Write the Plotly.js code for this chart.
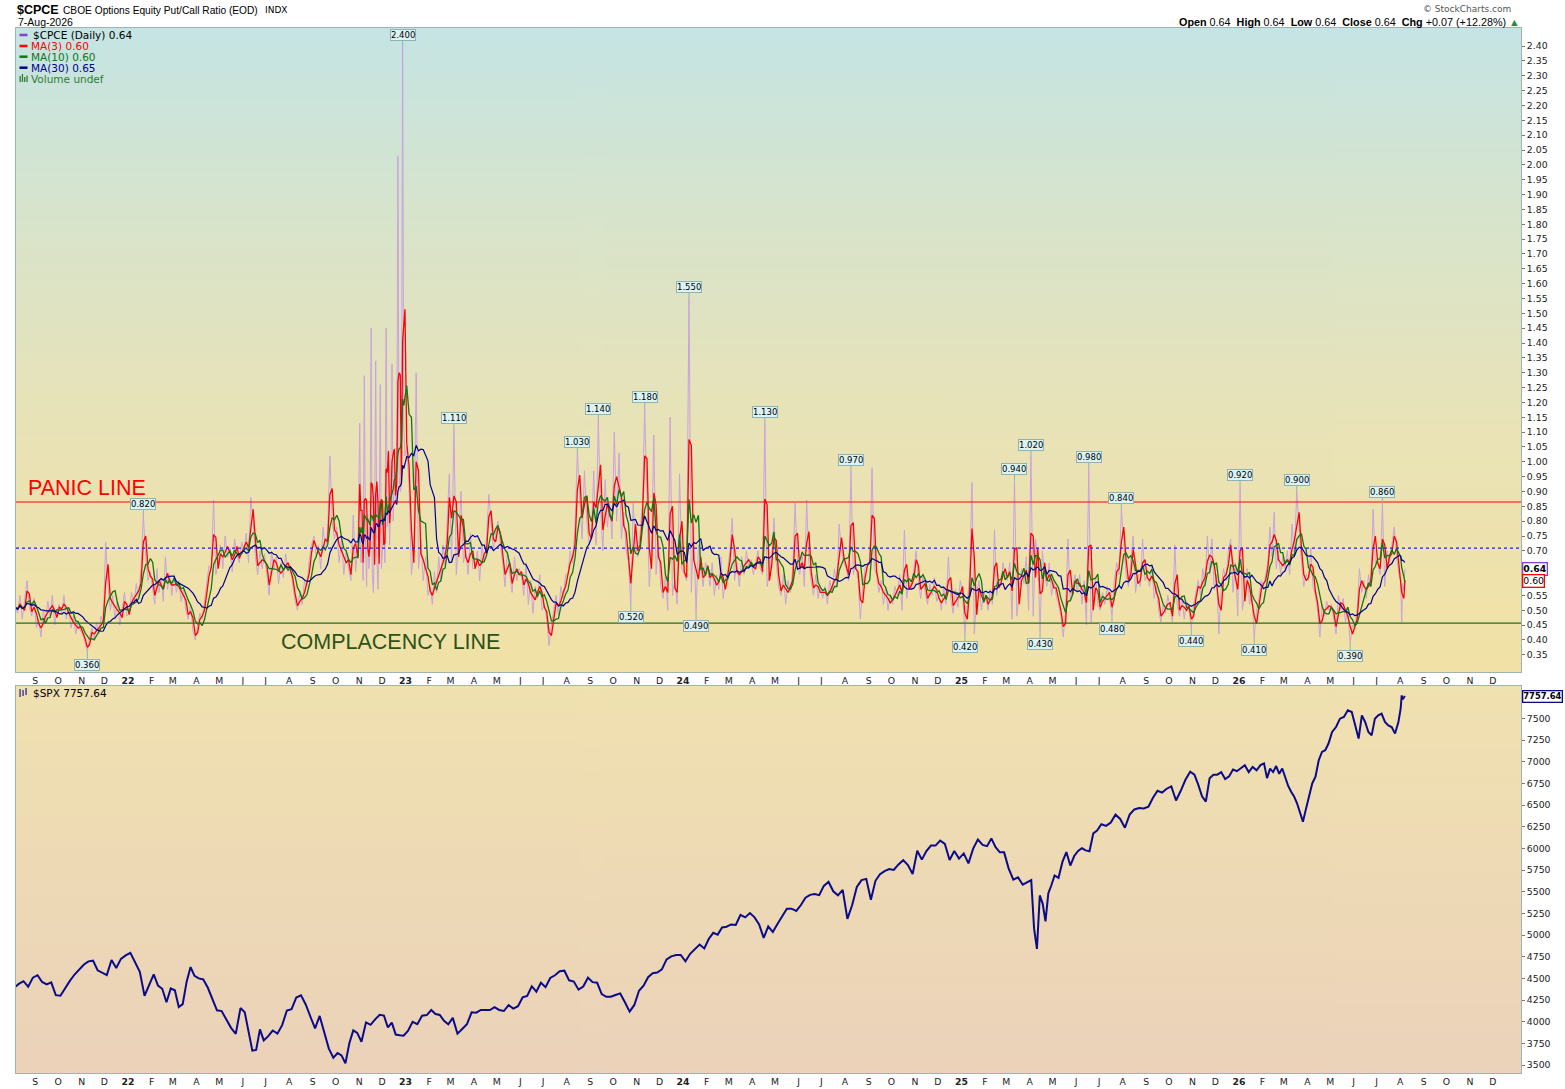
<!DOCTYPE html>
<html><head><meta charset="utf-8">
<script src="https://cdn.plot.ly/plotly-3.0.1.min.js"></script>
<style>html,body{margin:0;padding:0;background:#fff;}#chart{width:1565px;height:1089px;}</style>
</head><body><div id="chart"></div>
<script>
// ---------------- DATA ----------------
const FIRST_MONTH = '2021-08';
const LAST_DATE = '2026-08-07';

// $CPCE daily put/call ratio, sampled values per month (Aug 2021 .. Aug 2026)
const CPCE = [
 [0.50,0.52,0.49,0.55,0.47,0.53,0.60,0.51,0.48,0.54],
 [0.44,0.47,0.41,0.50,0.46,0.53,0.48,0.55,0.45,0.50],
 [0.52,0.49,0.55,0.47,0.51,0.44,0.48,0.42,0.46,0.43],
 [0.42,0.39,0.36,0.41,0.44,0.40,0.46,0.42,0.48,0.45],
 [0.73,0.58,0.50,0.55,0.47,0.53,0.45,0.50,0.56,0.48],
 [0.49,0.56,0.52,0.59,0.54,0.64,0.82,0.68,0.60,0.63],
 [0.58,0.52,0.64,0.56,0.61,0.53,0.68,0.57,0.62,0.55],
 [0.62,0.56,0.60,0.53,0.57,0.50,0.47,0.52,0.43,0.40],
 [0.45,0.49,0.47,0.53,0.58,0.65,0.64,0.87,0.62,0.66],
 [0.72,0.64,0.75,0.68,0.71,0.63,0.74,0.69,0.66,0.73],
 [0.70,0.76,0.66,0.88,0.80,0.68,0.62,0.70,0.64,0.69],
 [0.62,0.55,0.70,0.64,0.68,0.59,0.66,0.61,0.69,0.63],
 [0.64,0.58,0.53,0.50,0.56,0.52,0.60,0.58,0.67,0.72],
 [0.75,0.68,0.72,0.64,0.78,0.70,0.76,1.02,0.80,0.74],
 [0.78,0.66,0.74,0.62,0.70,0.64,0.60,0.82,0.63,0.72],
 [1.13,0.66,0.72,0.60,1.29,0.74,0.58,0.82,0.64,0.70,1.45,0.62,0.56,0.78,1.34,0.68,0.57,0.72,1.26,0.64],
 [0.70,0.82,0.66,1.45,0.78,0.88,0.72,0.95,1.33,0.80,1.00,0.86,0.92,2.03,0.95,0.90,0.92,2.40,1.12,1.02],
 [1.05,0.92,0.62,0.70,1.30,0.64,0.74,0.60,0.68,0.55],
 [0.58,0.52,0.63,0.56,0.68,0.60,0.72,0.65,0.80,0.96],
 [0.66,1.11,0.62,0.74,0.90,0.66,0.70,0.62,0.76,0.64],
 [0.64,0.70,0.60,0.72,0.66,0.74,0.89,0.78,0.70,0.76],
 [0.80,0.72,0.66,0.58,0.70,0.62,0.56,0.68,0.60,0.64],
 [0.62,0.55,0.66,0.52,0.60,0.49,0.58,0.54,0.62,0.50],
 [0.52,0.47,0.38,0.45,0.50,0.55,0.48,0.58,0.54,0.62],
 [0.62,0.70,0.66,0.78,1.03,0.88,0.74,0.97,0.80,0.72],
 [0.76,0.97,0.72,1.14,0.84,0.70,0.94,0.78,0.86,0.74],
 [1.10,0.80,1.03,0.74,0.83,0.70,0.66,0.52,0.86,0.72],
 [0.68,0.76,0.86,1.18,0.84,0.58,0.70,1.09,0.62,0.74],
 [0.58,0.54,0.62,0.50,1.15,0.55,0.60,0.52,0.96,0.64],
 [0.62,0.60,1.55,0.56,0.78,0.49,0.72,0.64,0.58,0.66],
 [0.64,0.58,0.66,0.55,0.62,0.57,0.68,0.54,0.60,0.63],
 [0.70,0.81,0.60,0.66,0.58,0.68,0.62,0.70,0.64,0.67],
 [0.62,0.66,0.70,0.64,0.62,1.13,0.58,0.62,0.68,0.81],
 [0.66,0.58,0.55,0.62,0.52,0.60,0.56,0.64,0.86,0.66],
 [0.62,0.70,0.58,0.87,0.66,0.60,0.55,0.62,0.54,0.58],
 [0.54,0.58,0.52,0.60,0.56,0.64,0.58,0.79,0.70,0.66],
 [0.64,0.60,0.97,0.62,0.66,0.60,0.47,0.58,0.64,0.66],
 [0.66,0.98,0.64,0.62,0.56,0.60,0.52,0.58,0.50,0.55],
 [0.52,0.58,0.55,0.62,0.50,0.77,0.54,0.60,0.57,0.64],
 [0.70,0.60,0.54,0.62,0.56,0.52,0.59,0.55,0.61,0.53],
 [0.55,0.50,0.58,0.52,0.68,0.54,0.49,0.57,0.51,0.60],
 [0.56,0.42,0.52,0.62,0.93,0.42,0.55,0.60,0.50,0.56],
 [0.54,0.50,0.57,0.52,0.77,0.55,0.60,0.58,0.66,0.62],
 [0.60,0.66,0.47,0.94,0.48,0.56,0.64,0.59,0.68,0.50],
 [1.02,0.48,0.74,0.68,0.43,0.70,0.62,0.58,0.66,0.55],
 [0.60,0.55,0.52,0.48,0.41,0.50,0.74,0.53,0.58,0.62],
 [0.56,0.62,0.52,0.60,0.45,0.98,0.46,0.54,0.61,0.52],
 [0.50,0.56,0.52,0.58,0.54,0.48,0.60,0.66,0.62,0.84],
 [0.72,0.62,0.58,0.66,0.75,0.56,0.62,0.58,0.74,0.60],
 [0.62,0.58,0.65,0.54,0.58,0.50,0.46,0.52,0.49,0.55],
 [0.50,0.46,0.72,0.52,0.48,0.55,0.47,0.53,0.50,0.44],
 [0.52,0.56,0.60,0.55,0.64,0.58,0.75,0.62,0.74,0.57],
 [0.62,0.42,0.58,0.64,0.60,0.70,0.74,0.56,0.66,0.48],
 [0.92,0.50,0.56,0.64,0.52,0.55,0.41,0.50,0.54,0.60],
 [0.58,0.62,0.66,0.78,0.68,0.83,0.64,0.70,0.62,0.68],
 [0.64,0.70,0.62,0.79,0.68,0.90,0.76,0.66,0.58,0.62],
 [0.60,0.71,0.58,0.55,0.50,0.41,0.52,0.48,0.53,0.50],
 [0.52,0.47,0.42,0.55,0.50,0.54,0.46,0.50,0.39,0.45],
 [0.44,0.50,0.64,0.56,0.60,0.54,0.62,0.58,0.84,0.66],
 [0.66,0.62,0.86,0.58,0.70,0.66,0.72,0.78,0.68,0.62],
 [0.60,0.46,0.59,0.57,0.64]
];

// $SPX sampled closes per month (Aug 2021 .. Aug 2026)
const SPX = [
 [4390,4437,4468,4405,4509],
 [4537,4459,4432,4455,4307],
 [4300,4391,4471,4545,4605],
 [4660,4697,4705,4594,4567],
 [4538,4712,4620,4725,4766],
 [4796,4677,4577,4300,4431],
 [4546,4418,4380,4225,4384],
 [4363,4170,4204,4463,4631,4530],
 [4500,4488,4392,4272,4132],
 [4123,4023,3930,3860,4158],
 [4109,3901,3667,3675,3912,3785],
 [3831,3899,3863,3961,4130],
 [4145,4280,4305,4200,4058],
 [3924,4067,3873,3693,3586],
 [3640,3612,3520,3752,3901,3872],
 [3770,3993,3965,4027,4080],
 [4071,3934,3990,3852,3844,3840],
 [3895,3999,3972,4070,4077],
 [4136,4090,4079,4012,3970],
 [4045,3862,3916,3971,4109],
 [4105,4137,4133,4135,4169],
 [4136,4124,4191,4151,4180],
 [4282,4299,4410,4348,4450],
 [4399,4505,4536,4582,4589],
 [4478,4464,4370,4406,4508],
 [4457,4450,4320,4288,4288],
 [4308,4327,4224,4117,4194],
 [4358,4415,4514,4559,4568],
 [4604,4719,4754,4769,4770],
 [4697,4784,4840,4891,4846],
 [4958,5026,5005,5088,5096],
 [5123,5117,5234,5204,5254],
 [5204,5123,4967,5100,5036],
 [5128,5222,5304,5305,5278],
 [5347,5431,5464,5473,5460],
 [5567,5615,5505,5459,5522],
 [5186,5344,5554,5634,5648],
 [5408,5626,5702,5738,5762],
 [5751,5815,5864,5808,5705],
 [5973,5870,5969,6032,6032],
 [6090,6051,5867,5970,5882],
 [5942,5827,5997,6101,6040],
 [6026,6115,6013,5955,5954],
 [5770,5639,5667,5581,5612],
 [5633,5074,4840,5457,5363,5158,5484,5569],
 [5687,5660,5844,5958,5802,5912],
 [5971,6001,5977,5967,6173,6205],
 [6279,6259,6297,6389,6339],
 [6238,6389,6449,6466,6460],
 [6481,6584,6664,6643,6688],
 [6715,6552,6664,6791,6885],
 [6850,6735,6600,6540,6810,6849],
 [6850,6880,6800,6830,6910,6890],
 [6920,6960,6880,6940,6900,6960],
 [6980,6810,6920,6880,6950,6860,6921],
 [6806,6720,6653,6600,6520,6400,6308,6450],
 [6596,6749,6826,7017,7113,7132,7209],
 [7343,7400,7496,7515,7592,7573],
 [7419,7266,7534,7458,7343,7304,7496],
 [7534,7553,7458,7419,7400,7324,7458],
 [7611,7764,7720,7745,7757.64]
];

// Value call-outs on the CPCE panel
const LABEL_DATES  = ['2021-11-08','2022-01-21','2022-12-28','2023-03-06','2023-08-15','2023-09-11','2023-10-23','2023-11-09','2024-01-09','2024-01-19','2024-04-16','2024-08-07','2025-01-03','2025-03-12','2025-04-02','2025-04-12','2025-06-17','2025-07-17','2025-07-31','2025-10-31','2026-01-02','2026-01-21','2026-03-17','2026-05-28','2026-07-08'];
const LABEL_VALUES = [0.36,0.82,2.40,1.11,1.03,1.14,0.52,1.18,1.55,0.49,1.13,0.97,0.42,0.94,1.02,0.43,0.98,0.48,0.84,0.44,0.92,0.41,0.90,0.39,0.86];
const LABEL_BELOW  = [1,0,0,0,0,0,1,0,0,1,0,0,1,0,0,1,0,1,0,1,0,1,0,1,0];

const PANIC_LEVEL = 0.8645;
const MID_LEVEL = 0.709;
const COMPLACENCY_LEVEL = 0.4566;
const MA_PERIODS = [3, 10, 30];
const MONTH_LETTERS = ['J','F','M','A','M','J','J','A','S','O','N','D'];
const CPCE_TICK_MIN = 0.35, CPCE_TICK_MAX = 2.40, CPCE_TICK_STEP = 0.05;
const SPX_TICK_MIN = 3500, SPX_TICK_MAX = 7500, SPX_TICK_STEP = 250;
const LAST = {cpce:'0.64', ma3:'0.60', ma10:'0.60', ma30:'0.65', spx:'7757.64', cpceVal:0.64, ma3Val:0.60, spxVal:7757.64};

// ---------------- BUILD ----------------
const DAY = 86400000;
function spread(rows){
  const [y0,m0] = FIRST_MONTH.split('-').map(Number);
  const xs=[], ys=[];
  rows.forEach((row,k)=>{
    const start = Date.UTC(y0, m0-1+k, 1);
    let end = Date.UTC(y0, m0+k, 1);
    if(k===rows.length-1) end = Date.parse(LAST_DATE+'T00:00:00Z') + DAY;
    row.forEach((v,i)=>{ xs.push(start + (i+0.5)/row.length*(end-start)); ys.push(v); });
  });
  return {xs, ys};
}
function movingAvg(xs, ys, n){
  const W = n*7/5*DAY; const out=[]; let j=0, s=0;
  for(let i=0;i<xs.length;i++){
    s += ys[i];
    while(xs[i]-xs[j] >= W){ s -= ys[j]; j++; }
    out.push(s/(i-j+1));
  }
  return out;
}
const cp = spread(CPCE), sp = spread(SPX);
const mas = MA_PERIODS.map(n=>movingAvg(cp.xs, cp.ys, n));

const W=1565, H=1089, L=16, R=44, T=28, B=16, PW=W-L-R, PH=H-T-B;
const px = v => (v-L)/PW, py = v => (H-B-v)/PH;
const TOP_DOM=[py(672),1], BOT_DOM=[0,py(686)];

const xRange=[Date.UTC(2021,7,6,16), Date.UTC(2027,0,7)];
const tickvals=[], ticktext=[];
for(let y=2021;y<=2026;y++) for(let m=0;m<12;m++){
  const t=Date.UTC(y,m,1); if(t<xRange[0]||t>xRange[1]) continue;
  tickvals.push(t); ticktext.push(m===0 ? '<b>'+String(y).slice(2)+'</b>' : MONTH_LETTERS[m]);
}
// right-axis labels hidden behind the last-value markers (as in the reference)
const cpTicks=[], cpText=[];
for(let v=CPCE_TICK_MIN; v<=CPCE_TICK_MAX+1e-9; v+=CPCE_TICK_STEP){
  const r=+v.toFixed(2); cpTicks.push(r);
  const covered = Math.abs(r-LAST.cpceVal)<0.03 || Math.abs(r-LAST.ma3Val)<0.03;
  cpText.push(covered ? '' : v.toFixed(2));
}
const spTicks=[];
for(let v=SPX_TICK_MIN; v<=SPX_TICK_MAX; v+=SPX_TICK_STEP) spTicks.push(v);

const FONT='DejaVu Sans', SANS='Liberation Sans';
const tickFont={family:FONT,size:9.3,color:'#222'};
const frame='#9fb3b3';

const traces=[
 {x:cp.xs,y:cp.ys,type:'scatter',mode:'lines',line:{color:'#c9a2dc',width:1},xaxis:'x',yaxis:'y',hoverinfo:'skip'},
 {x:cp.xs,y:mas[0],type:'scatter',mode:'lines',line:{color:'#ff0000',width:1.3},xaxis:'x',yaxis:'y',hoverinfo:'skip'},
 {x:cp.xs,y:mas[1],type:'scatter',mode:'lines',line:{color:'#0f770f',width:1.3},xaxis:'x',yaxis:'y',hoverinfo:'skip'},
 {x:cp.xs,y:mas[2],type:'scatter',mode:'lines',line:{color:'#00008f',width:1.2},xaxis:'x',yaxis:'y',hoverinfo:'skip'},
 {x:sp.xs,y:sp.ys,type:'scatter',mode:'lines',line:{color:'#0b0b8a',width:2},xaxis:'x2',yaxis:'y2',hoverinfo:'skip'}
];

function grad(stops){
  const c=document.createElement('canvas'); c.width=4; c.height=512;
  const ctx=c.getContext('2d'); const g=ctx.createLinearGradient(0,0,0,512);
  stops.forEach(s=>g.addColorStop(s[0],s[1])); ctx.fillStyle=g; ctx.fillRect(0,0,4,512);
  return c.toDataURL('image/png');
}
const images=[
 {source:grad([[0,'#c5e4e4'],[0.3,'#d8e4cb'],[0.6,'#e8e3b8'],[0.85,'#efe2ab'],[1,'#f1e1a6']]),xref:'paper',yref:'paper',x:0,y:1,sizex:1,sizey:1-TOP_DOM[0],xanchor:'left',yanchor:'top',sizing:'stretch',layer:'below'},
 {source:grad([[0,'#f0e1b0'],[1,'#ebd2ba']]),xref:'paper',yref:'paper',x:0,y:BOT_DOM[1],sizex:1,sizey:BOT_DOM[1],xanchor:'left',yanchor:'top',sizing:'stretch',layer:'below'}
];

const shapes=[
 {type:'line',xref:'x domain',yref:'y',x0:0,x1:1,y0:PANIC_LEVEL,y1:PANIC_LEVEL,line:{color:'#ff0000',width:1.2}},
 {type:'line',xref:'x domain',yref:'y',x0:0,x1:1,y0:MID_LEVEL,y1:MID_LEVEL,line:{color:'#1a1aff',width:1.3,dash:'dot'}},
 {type:'line',xref:'x domain',yref:'y',x0:0,x1:1,y0:COMPLACENCY_LEVEL,y1:COMPLACENCY_LEVEL,line:{color:'#236b1f',width:1.2}}
];
function dash(y,color){shapes.push({type:'line',xref:'paper',yref:'paper',x0:px(19.5),x1:px(27.5),y0:py(y),y1:py(y),line:{color:color,width:2.5}});}
dash(35,'#8a3fd1'); dash(46,'#ff0000'); dash(56.7,'#0f770f'); dash(67.7,'#00008f');
function bar(x0,x1,yTop,yBot,color){shapes.push({type:'rect',xref:'paper',yref:'paper',x0:px(x0),x1:px(x1),y0:py(yBot),y1:py(yTop),line:{width:0},fillcolor:color});}
bar(19.5,20.8,76,82,'#2e7d32'); bar(21.8,23.1,74,82,'#2e7d32'); bar(24.1,25.4,77,82,'#2e7d32'); bar(26.4,27.7,75.5,82,'#2e7d32');
bar(19.5,20.6,689,697,'#0b0b8a'); bar(22.5,23.6,690,696,'#0b0b8a'); bar(25.5,26.6,688,695,'#0b0b8a');

const ann=[];
function txt(x,y,text,o){o=o||{};ann.push({xref:'paper',yref:'paper',x:px(x),y:py(y),text:text,showarrow:false,xanchor:o.xa||'left',yanchor:'middle',font:{family:o.f||FONT,size:o.s||9,color:o.c||'#000'}});}
txt(15,10,'<b>$CPCE</b>',{f:SANS,s:12.5});
txt(61,10.5,'CBOE Options Equity Put/Call Ratio (EOD)',{f:SANS,s:10.2});
txt(263,10.5,'INDX',{s:9});
txt(16,22,'7-Aug-2026',{f:SANS,s:10.5});
txt(1513,9.5,'\u00a9 StockCharts.com',{xa:'right',s:9,c:'#555'});
txt(1522,22.5,'<b>Open</b> 0.64  <b>High</b> 0.64  <b>Low</b> 0.64  <b>Close</b> 0.64  <b>Chg</b> +0.07 (+12.28%) <span style="color:#2e8b2e">\u25b2</span>',{xa:'right',f:SANS,s:10.8});
txt(31,35,'$CPCE (Daily) '+LAST.cpce,{s:10.5});
txt(29,46,'MA(3) '+LAST.ma3,{s:10.5,c:'#ff0000'});
txt(29,56.7,'MA(10) '+LAST.ma10,{s:10.5,c:'#0f770f'});
txt(29,67.7,'MA(30) '+LAST.ma30,{s:10.5,c:'#00008f'});
txt(29,78.5,'Volume undef',{s:10.5,c:'#2e7d32'});
txt(31,693,'$SPX '+LAST.spx,{s:10.5});
txt(86.5,488,'PANIC LINE',{xa:'center',f:SANS,s:21.5,c:'#ff0000'});
txt(390,642,'COMPLACENCY LINE',{xa:'center',f:SANS,s:21.5,c:'#2b5216'});

// right-edge value markers
function marker(yref,y,text,border,bold,size){ann.push({xref:'paper',yref:yref,x:1,y:y,xanchor:'left',yanchor:'middle',xshift:1,text:bold?'<b>'+text+'</b>':text,showarrow:false,bgcolor:'#ffffff',bordercolor:border,borderwidth:1.3,borderpad:0,font:{family:FONT,size:size||9.3,color:'#000'}});}
marker('y',LAST.cpceVal,LAST.cpce,'#8a3fd1',true);
marker('y',LAST.ma3Val-0.002,LAST.ma3,'#ff0000',false);
marker('y2',LAST.spxVal,LAST.spx,'#0b0b8a',true,8.4);

// call-out labels snapped to the nearest matching sample
LABEL_DATES.forEach((d,k)=>{
  const t=Date.parse(d+'T12:00:00Z'), v=LABEL_VALUES[k];
  let best=-1, bs=1e9;
  for(let i=0;i<cp.xs.length;i++){ const dt=Math.abs(cp.xs[i]-t); if(dt>7*DAY) continue;
    const sc=Math.abs(cp.ys[i]-v)*1000+dt/DAY; if(sc<bs){bs=sc;best=i;} }
  const x = best>=0 ? cp.xs[best] : t, y = best>=0 ? cp.ys[best] : v;
  ann.push({xref:'x',yref:'y',x:x,y:y,text:v.toFixed(3),showarrow:true,arrowhead:0,arrowwidth:1,arrowcolor:'#8fb3b3',ax:0,ay:LABEL_BELOW[k]?13:-11,standoff:0,
    bgcolor:'#dcf3f3',bordercolor:'#8fb3b3',borderwidth:1,borderpad:0,font:{family:FONT,size:8.5,color:'#000'}});
});

const xax={type:'date',range:xRange,tickvals:tickvals,ticktext:ticktext,tickfont:tickFont,ticks:'',showline:true,mirror:true,linecolor:frame,linewidth:1,showgrid:false,zeroline:false,fixedrange:true};
const layout={
  width:W,height:H,margin:{l:L,r:R,t:T,b:B,pad:0},paper_bgcolor:'#ffffff',plot_bgcolor:'rgba(0,0,0,0)',
  showlegend:false,font:{family:FONT,size:9,color:'#222'},
  xaxis:Object.assign({},xax,{anchor:'y',domain:[0,1]}),
  xaxis2:Object.assign({},xax,{anchor:'y2',domain:[0,1],matches:'x'}),
  yaxis:{domain:TOP_DOM,range:[0.292,2.461],side:'right',tickvals:cpTicks,ticktext:cpText,tickfont:tickFont,ticks:'outside',ticklen:3,tickcolor:'#777',showline:true,mirror:true,linecolor:frame,showgrid:false,zeroline:false,fixedrange:true},
  yaxis2:{domain:BOT_DOM,range:[3409,7873],side:'right',tickvals:spTicks,ticktext:spTicks.map(String),tickfont:tickFont,ticks:'outside',ticklen:3,tickcolor:'#777',showline:true,mirror:true,linecolor:frame,showgrid:false,zeroline:false,fixedrange:true},
  shapes:shapes,annotations:ann,images:images
};
Plotly.newPlot('chart',traces,layout,{staticPlot:true,displayModeBar:false});
</script></body></html>
